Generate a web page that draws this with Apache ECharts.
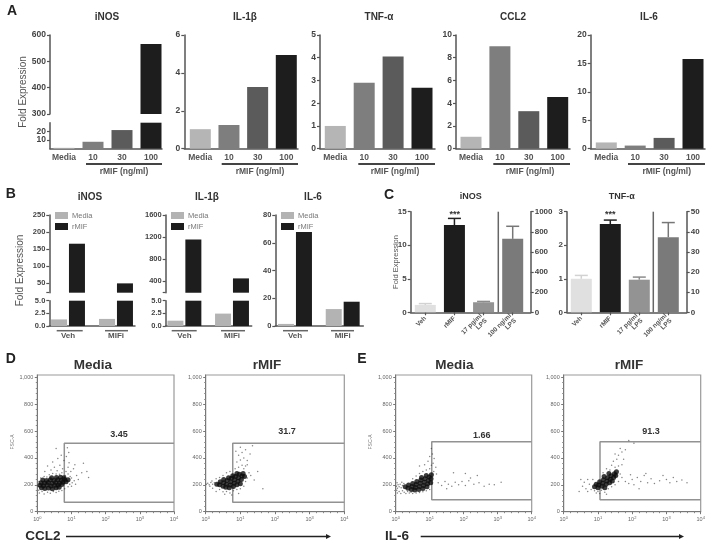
<!DOCTYPE html>
<html><head><meta charset="utf-8">
<style>html,body{margin:0;padding:0;background:#fff}#c{width:714px;height:548px;filter:blur(0.55px)}</style>
<script src="https://cdn.jsdelivr.net/npm/echarts@6/dist/echarts.min.js"></script>
</head><body><div id="c"></div>
<script>
// ---------- data ----------
const doseCats = ['Media','10','30','100'];
const groupCats = ['Veh','MIFi'];
const lpsCats = ['Veh','rMIF','17 pg/ml\nLPS','100 ng/ml\nLPS'];
const aINOS = [1, 8, 21.5, 566];
const aIL1B = [1.03, 1.25, 3.25, 4.95];
const aTNF = [1.0, 2.9, 4.05, 2.68];
const aCCL2 = [1.05, 9.0, 3.3, 4.55];
const aIL6 = [1.1, 0.55, 1.9, 15.8];
const bINOSMedia = [1.3, 1.4];
const bINOSrMIF = [166, 50];
const bIL1BMedia = [1.05, 2.45];
const bIL1BrMIF = [1157, 448];
const bIL6Media = [1.5, 12.2];
const bIL6rMIF = [67.7, 17.5];
const cINOSLeft = [1.1, 13.0];
const cINOSLeftErr = [1.3, 14.0];
const cINOSRight = [100, 730];
const cINOSRightErr = [108, 855];
const cTNFLeft = [1.0, 2.63];
const cTNFLeftErr = [1.1, 2.75];
const cTNFRight = [16.2, 37.3];
const cTNFRightErr = [17.5, 44.6];
// flow plots: [log10 fluorescence, FSC-A]
const d1Core = [[.12,178],[.22,172],[.33,176],[.44,170],[.55,178],[.64,182],[.08,197],[.18,193],[.29,198],[.4,192],[.51,196],[.61,199],[.72,202],[.11,216],[.21,213],[.32,218],[.43,212],[.54,217],[.65,214],[.75,220],[.84,222],[.16,236],[.27,232],[.38,238],[.49,233],[.6,237],[.7,234],[.8,240],[.9,238],[.42,252],[.56,254],[.68,256],[.78,252]];
const d1Halo = [[.06,140],[.14,150],[.2,132],[.3,145],[.38,138],[.47,150],[.55,142],[.63,152],[.72,158],[.8,170],[.9,185],[.95,205],[1.02,215],[1.08,230],[1.0,250],[1.12,205],[1.2,240],[1.3,290],[1.5,255],[1.35,360],[1.45,300],[.05,225],[.03,190],[.04,160],[.1,250],[.2,262],[.28,258],[.35,275],[.45,285],[.55,280],[.65,278],[.72,290],[.82,270],[.9,280],[.96,262],[.4,310],[.5,330],[.58,305],[.66,345],[.74,320],[.84,300],[.9,330],[.93,365],[.78,380],[.6,395],[.7,420],[.85,410],[.92,440],[.45,370],[.3,340],[.22,300],[1.06,320],[1.1,350],[1.15,270],[.98,300],[.55,470],[.88,475],[1.0,190]];
const d2Core = [[.32,205],[.4,200],[.42,222],[.5,190],[.52,215],[.58,182],[.6,205],[.62,232],[.68,178],[.7,198],[.72,222],[.74,248],[.8,188],[.82,212],[.84,238],[.86,262],[.9,200],[.93,226],[.95,252],[.97,278],[1.03,240],[1.05,265],[1.08,285],[.78,268],[.66,252],[.52,240],[1.0,208],[.9,285],[1.12,262]];
const d2Halo = [[.02,205],[.06,212],[.1,200],[.15,218],[.2,205],[.25,215],[.12,190],[.18,228],[.3,150],[.4,165],[.5,148],[.6,150],[.7,140],[.8,155],[.9,165],[1.0,170],[1.1,190],[.55,130],[.75,125],[.2,175],[.95,135],[1.15,225],[1.2,250],[1.25,290],[1.3,270],[1.4,235],[1.5,300],[1.1,320],[1.65,170],[.85,320],[.95,330],[1.05,345],[1.15,340],[.9,370],[1,385],[1.1,400],[1.2,380],[.95,420],[1.05,440],[1.15,460],[1.28,430],[.87,450],[1.35,490],[1.0,480],[1.2,350],[.6,290],[.7,300],[.5,270],[.4,255],[.3,245]];
const e1Core = [[.28,185],[.36,175],[.38,198],[.46,165],[.48,188],[.5,210],[.56,162],[.58,180],[.6,203],[.62,225],[.68,165],[.7,188],[.72,212],[.74,235],[.8,172],[.82,195],[.84,220],[.86,245],[.92,185],[.94,208],[.96,232],[.98,258],[1.03,215],[1.04,245],[1.05,275],[.9,270],[.76,255]];
const e1Halo = [[.02,190],[.05,175],[.07,200],[.1,185],[.13,205],[.16,178],[.2,195],[.03,160],[.04,215],[.24,210],[.18,220],[.05,140],[.1,150],[.15,135],[.2,155],[.25,145],[.3,135],[.35,150],[.4,140],[.45,145],[.5,135],[.6,140],[.7,142],[.8,148],[.9,155],[1.0,165],[.5,245],[.6,265],[.7,285],[.8,300],[.9,310],[1.0,320],[1.05,345],[1.1,360],[.95,375],[1.0,410],[1.08,430],[1.13,395],[1.18,330],[.85,350],[.7,340],[1.12,300],[1.2,280],[1.05,470],[1.25,215],[1.35,195],[1.45,225],[1.55,205],[1.65,190],[1.75,220],[1.85,200],[1.95,225],[2.05,195],[2.15,230],[2.3,205],[2.05,285],[2.2,250],[2.45,215],[2.6,190],[2.75,205],[2.9,200],[3.1,220],[2.4,270],[1.5,170],[1.7,290]];
const e2Core = [[.9,185],[.95,205],[1.0,178],[1.02,198],[1.05,222],[1.12,190],[1.14,212],[1.16,238],[1.2,178],[1.24,205],[1.26,228],[1.28,252],[1.34,215],[1.36,242],[1.38,268],[1.42,228],[1.46,255],[1.48,282],[1.52,270],[1.54,298],[1.32,285],[1.18,262]];
const e2Halo = [[.6,220],[.55,190],[.65,170],[.7,240],[.75,205],[.8,165],[.45,150],[.85,240],[.5,240],[.7,150],[.9,155],[1,150],[1.05,135],[1.1,160],[1.2,145],[1.3,170],[1.4,185],[1.5,200],[1.6,225],[.95,140],[1.25,130],[1.15,290],[1.25,320],[1.35,310],[1.4,345],[1.5,330],[1.6,340],[1.65,280],[1.7,255],[1.45,375],[1.55,390],[1.6,420],[1.7,445],[1.65,470],[1.8,460],[1.75,390],[1.5,430],[1.9,530],[2.05,510],[1.7,350],[1.8,225],[1.9,210],[2,240],[2.05,200],[2.15,255],[2.25,225],[2.35,270],[2.45,215],[2.55,245],[2.65,210],[2.8,230],[2.9,270],[3,240],[3.1,215],[3.2,255],[3.3,225],[3.45,235],[3.6,215],[2.2,170],[2.4,285],[1.95,275]];
const d1Gate = [[4,509],[.79,509],[.79,70],[4,70]];
const d2Gate = [[4,509],[.78,509],[.78,70],[4,70]];
const e1Gate = [[4,521],[1.06,521],[1.06,89],[4,89]];
const e2Gate = [[4,521],[1.06,521],[1.06,89],[4,89]];
const flowY = [0,200,400,600,800,1000];
const flowX = [0,1,2,3,4];

// ---------- styles ----------
const FONT = '"Liberation Sans",Arial,sans-serif';
const AXC = '#555';
const doseColors = ['#b5b5b5','#7e7e7e','#5b5b5b','#1d1d1d'];
const lpsColors = ['#e0e0e0','#1d1d1d','#939393','#7a7a7a'];
const MEDIA = '#b3b3b3', RMIF = '#1d1d1d';

const grids=[],xAxes=[],yAxes=[],series=[],titles=[],graphics=[];

function addGrid(l,r,t,b){grids.push({left:l,top:t,width:r-l,height:b-t,containLabel:false});return grids.length-1;}
function xDomain(g,l,r,centers,cats,showAxis,fs,margin,extra){
  const band=(centers[centers.length-1]-centers[0])/(centers.length-1);
  xAxes.push(Object.assign({type:'value',gridIndex:g,min:(l-centers[0])/band,max:(r-centers[0])/band,show:showAxis,
    splitLine:{show:false},axisLine:{onZero:false,lineStyle:{color:AXC,width:1.5}},axisTick:{show:false},
    axisLabel:{customValues:cats.map((_,i)=>i),formatter:v=>cats[v],fontFamily:FONT,fontSize:fs,fontWeight:'bold',color:'#555',margin:margin}},extra||{}));
  return xAxes.length-1;
}
function yDomain(g,min,max,ticks,fs,fmt,pos,tickExtra){
  yAxes.push({type:'value',gridIndex:g,min:min,max:max,position:pos||'left',splitLine:{show:false},
    axisLine:{onZero:false,lineStyle:{color:AXC,width:1.5}},
    axisTick:{customValues:tickExtra||ticks,length:3,lineStyle:{color:AXC,width:1.2}},
    axisLabel:{customValues:ticks,formatter:fmt||(v=>String(v)),fontFamily:FONT,fontSize:fs,fontWeight:'bold',color:'#444',margin:4}});
  return yAxes.length-1;
}
function singleBar(x,y,vals,colors,w,name){
  series.push({type:'bar',name:name,xAxisIndex:x,yAxisIndex:y,barWidth:w,barGap:'-100%',silent:true,animation:false,
    data:vals.map((v,i)=>({value:[i,v],itemStyle:{color:colors[i]}}))});
}
function text(t,x,y,font,fill,rot){
  graphics.push({type:'text',x:x,y:y,rotation:rot||0,silent:true,z:50,style:{text:t,fill:fill||'#333',font:font,align:'center',verticalAlign:'middle'}});
}
function hline(x1,x2,y,w,c){
  graphics.push({type:'line',silent:true,z:50,shape:{x1:x1,y1:y,x2:x2,y2:y},style:{stroke:c||'#444',lineWidth:w||1.5}});
}
function vline(x,y1,y2,w,c){
  graphics.push({type:'line',silent:true,z:50,shape:{x1:x,y1:y1,x2:x,y2:y2},style:{stroke:c||'#666',lineWidth:w||1.5}});
}
function panelTitle(t,x,y,size){
  titles.push({text:t,left:x,top:y-size/2-1,textAlign:'center',padding:0,textStyle:{fontFamily:FONT,fontSize:size,fontWeight:'bold',color:'#333'}});
}
const bold=s=>'bold '+s+'px '+FONT;
const reg=s=>s+'px '+FONT;

// ---------- panel A ----------
function panelA(t,tx,l,r,centers,vals,ymax,ticks,ulStart,ulCx){
  panelTitle(t,tx,18,10);
  const g=addGrid(l,r,35,148.7);
  const x=xDomain(g,l,r,centers,doseCats,true,8.5,4);
  const y=yDomain(g,0,ymax,ticks,8.5);
  singleBar(x,y,vals,doseColors,21);
  hline(ulStart,r,164,2);
  text('rMIF (ng/ml)',ulCx,171.5,bold(8.5),'#555');
}
// iNOS with a broken axis
(function(){
  const l=50,r=162,c=[64,93,122,151];
  panelTitle('iNOS',107,18,10);
  const gu=addGrid(l,r,35,114), gl=addGrid(l,r,122.7,148.7);
  const xu=xDomain(gu,l,r,c,doseCats,false,8.5,4);
  const xl=xDomain(gl,l,r,c,doseCats,true,8.5,4);
  const yu=yDomain(gu,300,600,[300,400,500,600],8.5);
  const yl=yDomain(gl,0,30,[0,10,20,30],8.5);
  singleBar(xu,yu,aINOS,doseColors,21);
  singleBar(xl,yl,aINOS,doseColors,21);
  hline(86,r,164,2);
  text('rMIF (ng/ml)',124,171.5,bold(8.5),'#555');
})();
panelA('IL-1β',245,184.3,298,[200.3,228.8,257.8,286.3],aIL1B,6,[0,2,4,6],221.7,260);
panelA('TNF-α',379,320,435,[335.3,363.8,393,422],aTNF,5,[0,1,2,3,4,5],358.3,395);
panelA('CCL2',513,456,570,[471,499.7,528.7,557.7],aCCL2,10,[0,2,4,6,8,10],493.3,530);
panelA('IL-6',649,590.7,705,[606.3,635.3,664,693],aIL6,20,[0,5,10,15,20],628,666.7);
text('Fold Expression',23,92,reg(10),'#555',Math.PI/2);

// ---------- panel B ----------
function groupBars(x,y,media,rmif){
  const mk=(name,vals,color)=>series.push({type:'bar',name:name,xAxisIndex:x,yAxisIndex:y,barWidth:16,barGap:'12%',silent:true,animation:false,
    itemStyle:{color:color},data:vals.map((v,i)=>[i,v])});
  mk('Media',media,MEDIA); mk('rMIF',rmif,RMIF);
}
const fix1=v=>v.toFixed(1);
function panelB(t,tx,l,r,centers,media,rmif,upper,ul,labelCx,legLeft){
  panelTitle(t,tx,198.5,10);
  if(upper){
    const gu=addGrid(l,r,215,292.7), gl=addGrid(l,r,300.7,326);
    const xu=xDomain(gu,l,r,centers,groupCats,false,8,4);
    const xl=xDomain(gl,l,r,centers,groupCats,true,8,6);
    const yu=yDomain(gu,upper.min,upper.max,upper.ticks,7.5,null,'left',[upper.min].concat(upper.ticks));
    const yl=yDomain(gl,0,5,[0,2.5,5],7.5,fix1);
    groupBars(xu,yu,media,rmif); groupBars(xl,yl,media,rmif);
  } else {
    const g=addGrid(l,r,215,326);
    const x=xDomain(g,l,r,centers,groupCats,true,8,6);
    const y=yDomain(g,0,80,[0,20,40,60,80],7.5);
    groupBars(x,y,media,rmif);
  }
  hline(ul[0],ul[1],330.7,1.5,'#666'); hline(ul[2],ul[3],330.7,1.5,'#666');
  return {data:['Media','rMIF'],orient:'vertical',left:legLeft,top:211.5,padding:0,itemWidth:13,itemHeight:7,itemGap:3,icon:'rect',selectedMode:false,
    textStyle:{fontFamily:FONT,fontSize:7.5,color:'#777',padding:[0,0,0,-1]}};
}
const legends=[
 panelB('iNOS',90,49.3,135,[68,116],bINOSMedia,bINOSrMIF,{min:22.7,max:250,ticks:[50,100,150,200,250]},[56.7,82.7,105,128],0,55),
 panelB('IL-1β',207,165.7,251.7,[184.4,232],bIL1BMedia,bIL1BrMIF,{min:188,max:1600,ticks:[400,800,1200,1600]},[171.7,196.7,221,245],0,171),
 panelB('IL-6',313,275.3,363.3,[295,342.7],bIL6Media,bIL6rMIF,null,[283,308,331,354],0,281)
];
text('Fold Expression',20,270.5,reg(10),'#555',Math.PI/2);

// ---------- panel C ----------
function errSeries(x,y,startIdx,vals,errs,colors){
  series.push({type:'custom',xAxisIndex:x,yAxisIndex:y,silent:true,animation:false,z:3,
    data:vals.map((v,i)=>[startIdx+i,v,errs[i]]),
    renderItem:function(p,api){
      const a=api.coord([api.value(0),api.value(1)]), b=api.coord([api.value(0),api.value(2)]);
      const st={stroke:colors[p.dataIndex],lineWidth:1.5};
      return {type:'group',children:[
        {type:'line',shape:{x1:a[0],y1:a[1],x2:b[0],y2:b[1]},style:st},
        {type:'line',shape:{x1:b[0]-6.5,y1:b[1],x2:b[0]+6.5,y2:b[1]},style:st}]};
    }});
}
function panelC(t,tx,l,r,centers,leftMax,leftTicks,rightMax,rightTicks,lv,le,rv,re,sep){
  panelTitle(t,tx,197.7,9);
  const g=addGrid(l,r,211.7,312.3);
  const x=xDomain(g,l,r,centers,lpsCats,true,6.5,5,{axisTick:{show:true,length:3,customValues:[0,1,2,3],lineStyle:{color:AXC,width:1.2}}});
  xAxes[x].axisLabel.rotate=45;
  const yl=yDomain(g,0,leftMax,leftTicks,8);
  const yr=yDomain(g,0,rightMax,rightTicks,8,null,'right');
  series.push({type:'bar',xAxisIndex:x,yAxisIndex:yl,barWidth:21,barGap:'-100%',silent:true,animation:false,
    data:lv.map((v,i)=>({value:[i,v],itemStyle:{color:lpsColors[i]}}))});
  series.push({type:'bar',xAxisIndex:x,yAxisIndex:yr,barWidth:21,barGap:'-100%',silent:true,animation:false,
    data:rv.map((v,i)=>({value:[i+2,v],itemStyle:{color:lpsColors[i+2]}}))});
  errSeries(x,yl,0,lv,le,['#d2d2d2','#222']);
  errSeries(x,yr,2,rv,re,['#8c8c8c','#777']);
  vline(sep,211.7,312.3,1.5,'#666');
  text('***',centers[1],214.5,bold(9),'#333');
}
panelC('iNOS',470.7,410.7,530.7,[425.3,454.7,483.7,512.7],15,[0,5,10,15],1000,[0,200,400,600,800,1000],cINOSLeft,cINOSLeftErr,cINOSRight,cINOSRightErr,498.3);
panelC('TNF-α',621.7,567,686.7,[581.3,610.3,639,668.3],3,[0,1,2,3],50,[0,10,20,30,40,50],cTNFLeft,cTNFLeftErr,cTNFRight,cTNFRightErr,653.3);
text('Fold Expression',395.7,262,reg(7.5),'#555',Math.PI/2);

// ---------- panels D, E ----------
function flow(t,tx,l,r,core,halo,gate,val,vx,vy){
  panelTitle(t,tx,366,13.5);
  grids.push({left:l,top:375,width:r-l,height:136.7,containLabel:false,show:true,borderColor:'#9a9a9a',borderWidth:1.2,backgroundColor:'#fff'});
  const g=grids.length-1;
  xAxes.push({type:'value',gridIndex:g,min:0,max:4,interval:1,splitLine:{show:false},
    axisLine:{onZero:false,lineStyle:{color:'#777',width:1}},axisTick:{length:2.5,lineStyle:{color:'#777'}},minorTick:{show:true,splitNumber:5,length:1.5,lineStyle:{color:'#888'}},
    axisLabel:{customValues:flowX,formatter:v=>'10{s|'+v+'}',fontFamily:FONT,fontSize:5.5,color:'#666',margin:4,
      rich:{s:{fontSize:4,fontFamily:FONT,color:'#666',padding:[0,0,3,0]}}}});
  yAxes.push({type:'value',gridIndex:g,min:0,max:1017,interval:200,splitLine:{show:false},
    axisLine:{onZero:false,lineStyle:{color:'#777',width:1}},axisTick:{customValues:flowY,length:2.5,lineStyle:{color:'#777'}},minorTick:{show:true,splitNumber:5,length:1.5,lineStyle:{color:'#888'}},
    axisLabel:{customValues:flowY,fontFamily:FONT,fontSize:5.5,color:'#666',margin:4}});
  const x=xAxes.length-1,y=yAxes.length-1;
  series.push({type:'line',xAxisIndex:x,yAxisIndex:y,data:gate,showSymbol:false,silent:true,animation:false,lineStyle:{color:'#929292',width:1.5},z:1});
  series.push({type:'scatter',xAxisIndex:x,yAxisIndex:y,data:halo,symbolSize:1.5,silent:true,animation:false,itemStyle:{color:'#333',opacity:.6},z:2});
  series.push({type:'scatter',xAxisIndex:x,yAxisIndex:y,data:core,symbolSize:5,silent:true,animation:false,itemStyle:{color:'#0c0c0c'},z:3});
  text(val,vx,vy,bold(9),'#333');
}
flow('Media',93,37.3,174,d1Core,d1Halo,d1Gate,'3.45',119,434.3);
flow('rMIF',267,205.7,344.3,d2Core,d2Halo,d2Gate,'31.7',287,432);
flow('Media',454.3,395.7,531.7,e1Core,e1Halo,e1Gate,'1.66',481.7,435.7);
flow('rMIF',629,563.7,700.7,e2Core,e2Halo,e2Gate,'91.3',651,432);
text('FSC-A',13,442,reg(5),'#777',Math.PI/2);
text('FSC-A',371,442,reg(5),'#777',Math.PI/2);
function arrow(x1,x2,y){
  hline(x1,x2-3,y,1.3,'#222');
  graphics.push({type:'polygon',silent:true,z:50,shape:{points:[[x2-5,y-2.5],[x2,y],[x2-5,y+2.5]]},style:{fill:'#222'}});
}
text('CCL2',43,536,bold(13.5),'#2a2a2a'); arrow(66,331,536.5);
text('IL-6',397,536.5,bold(13.5),'#2a2a2a'); arrow(420.7,684,536.5);

// panel letters
[['A',12,11],['B',10.7,194],['C',389,195],['D',10.7,359],['E',362,359]].forEach(a=>text(a[0],a[1],a[2],bold(14),'#222'));

const chart=echarts.init(document.getElementById('c'));
chart.setOption({animation:false,backgroundColor:'#fff',title:titles,grid:grids,xAxis:xAxes,yAxis:yAxes,legend:legends,series:series,graphic:{elements:graphics},tooltip:{show:false}});
</script></body></html>
